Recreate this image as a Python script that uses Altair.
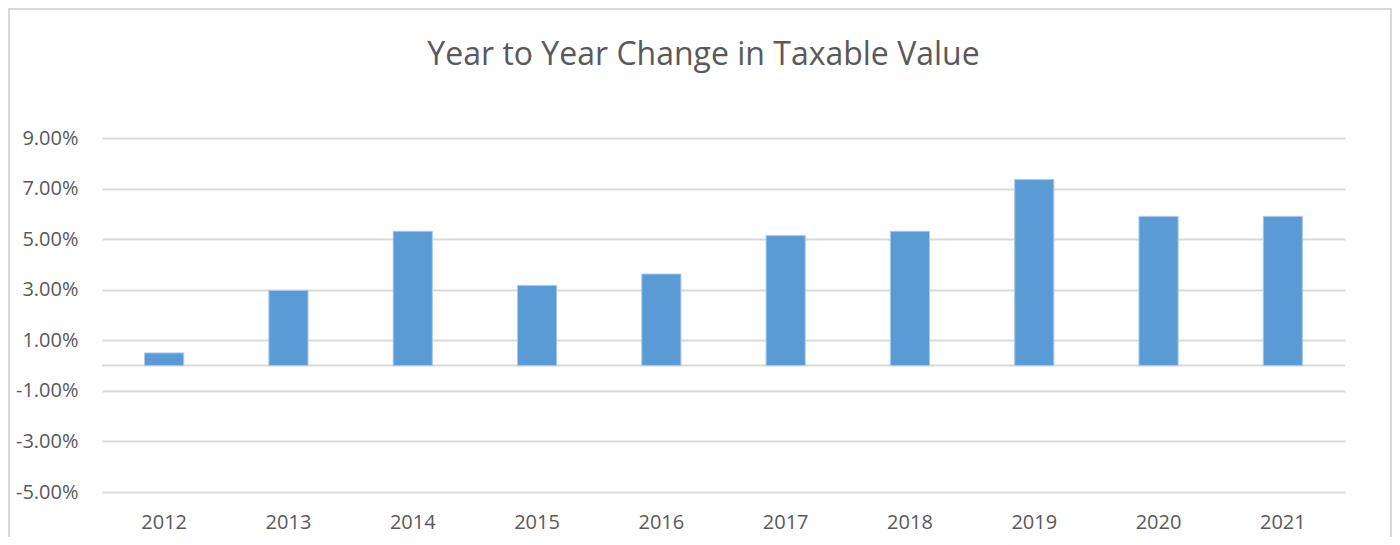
import altair as alt
import pandas as pd

years = ["2012", "2013", "2014", "2015", "2016", "2017", "2018", "2019", "2020", "2021"]
changes = [0.0050, 0.0297, 0.0531, 0.0317, 0.0362, 0.0514, 0.0531, 0.0736, 0.0590, 0.0590]
tick_values = [-0.05, -0.03, -0.01, 0.01, 0.03, 0.05, 0.07, 0.09]
title_text = "Year to Year Change in Taxable Value"

df = pd.DataFrame({"year": years, "change": changes})
zero_df = pd.DataFrame({"zero": [0.0]})

FONT = "Open Sans"
GREY = "#595959"
GRID = "#d9d9d9"

y_scale = alt.Scale(domain=[-0.05, 0.09], nice=False, zero=False)

frame = alt.Chart(zero_df).mark_rect(
    fillOpacity=0, stroke=GRID, strokeWidth=2, clip=False
).encode(
    x=alt.value(-93), x2=alt.value(1289), y=alt.value(-129), y2=alt.value(420)
)

zero_rule = alt.Chart(zero_df).mark_rule(color=GRID, strokeWidth=2).encode(
    y=alt.Y("zero:Q", scale=y_scale)
)

bars = alt.Chart(df).mark_bar(color="#5B9BD5", stroke="#a9c9ec", strokeWidth=1).encode(
    x=alt.X(
        "year:N",
        sort=None,
        scale=alt.Scale(paddingInner=0.685, paddingOuter=0.3425),
        axis=alt.Axis(
            title=None, labelAngle=0, domain=False, ticks=False, grid=False,
            labelPadding=20, labelFontSize=20, labelColor=GREY, labelFont=FONT,
        ),
    ),
    y=alt.Y(
        "change:Q",
        scale=y_scale,
        axis=alt.Axis(
            title=None, values=tick_values, domain=False, ticks=False,
            labelExpr="replace(format(datum.value, '.2%'), '\u2212', '-')",
            labelPadding=24, labelFontSize=20, labelColor=GREY, labelFont=FONT,
            gridColor=GRID, gridWidth=2,
        ),
    ),
)

chart = alt.layer(frame, zero_rule, bars).properties(
    width=1243,
    height=354,
    title=alt.TitleParams(
        title_text, fontSize=32, font=FONT, fontWeight="normal", color=GREY,
        offset=0, dy=64, anchor="middle", frame="group", dx=-20,
    ),
    autosize=alt.AutoSizeParams(type="none"),
    padding={"left": 94, "top": 130, "right": 47, "bottom": 45},
).configure_view(stroke=None)

chart.save("out.html", embed_options={"renderer": "svg", "actions": False})
